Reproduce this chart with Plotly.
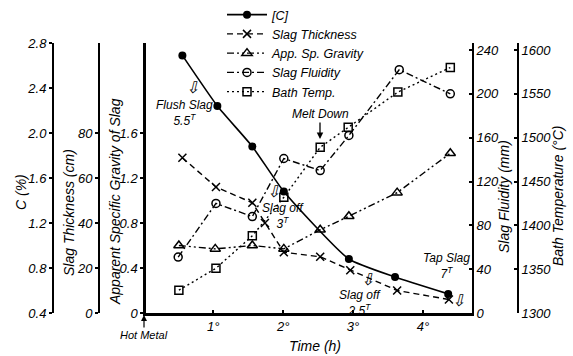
import plotly.graph_objects as go

W, H = 573, 356

# ---- data ----
hours_c = [0.56, 1.06, 1.56, 2.01, 2.94, 3.60, 4.36]
carbon = [2.69, 2.24, 1.88, 1.48, 0.88, 0.72, 0.57]

hours_thk = [0.56, 1.04, 1.56, 1.74, 2.01, 2.53, 2.96, 3.63, 4.37]
slag_thickness = [69, 56, 49, 40, 27, 25, 19, 10, 6]

hours_sg = [0.51, 1.03, 1.56, 2.01, 2.53, 2.94, 3.63, 4.39]
sp_gravity = [0.60, 0.57, 0.60, 0.57, 0.74, 0.86, 1.07, 1.42]

hours_fl = [0.50, 1.04, 1.56, 2.01, 2.53, 2.94, 3.66, 4.39]
slag_fluidity = [51, 100, 88, 141, 130, 162, 222, 200]

hours_bt = [0.51, 1.04, 1.56, 2.01, 2.53, 2.93, 3.64, 4.39]
bath_temp = [1326, 1351, 1388, 1432, 1489, 1512, 1552, 1580]

x_ticks = [1, 2, 3, 4]
x_ticktext = ["1°", "2°", "3°", "4°"]
c_ticks = [0.4, 0.8, 1.2, 1.6, 2.0, 2.4, 2.8]
thk_ticks = [0, 20, 40, 60, 80]
sg_ticks = [0, 0.4, 0.8, 1.2, 1.6]
sg_ticktext = ["0", "0.4", "0.8", "1.2", "1.6"]
fl_ticks = [0, 40, 80, 120, 160, 200, 240]
bt_ticks = [1300, 1350, 1400, 1450, 1500, 1550, 1600]

FONT = "Liberation Sans"


def px(x):
    return x / W


def py(y):
    return 1 - y / H


fig = go.Figure()
fig.add_trace(go.Scatter(x=hours_c, y=carbon, yaxis="y2", name="[C]",
                         mode="lines+markers", line=dict(color="black", width=1.6, shape="spline", smoothing=0.5),
                         marker=dict(symbol="circle", size=8, color="black")))
fig.add_trace(go.Scatter(x=hours_thk, y=slag_thickness, yaxis="y3", name="Slag Thickness",
                         mode="lines+markers", line=dict(color="black", width=1.4, dash="6px,4px"),
                         marker=dict(symbol="x-thin-open", size=8, line=dict(color="black", width=1.5))))
fig.add_trace(go.Scatter(x=hours_sg, y=sp_gravity, yaxis="y", name="App. Sp. Gravity",
                         mode="lines+markers", line=dict(color="black", width=1.4, dash="7px,3px,2px,3px,2px,3px"),
                         marker=dict(symbol="triangle-up-open", size=9, color="black", line=dict(width=1.5))))
fig.add_trace(go.Scatter(x=hours_fl, y=slag_fluidity, yaxis="y4", name="Slag Fluidity",
                         mode="lines+markers", line=dict(color="black", width=1.4, dash="7px,3px,2px,3px"),
                         marker=dict(symbol="circle-open", size=8, color="black", line=dict(width=1.5))))
fig.add_trace(go.Scatter(x=hours_bt, y=bath_temp, yaxis="y5", name="Bath Temp.",
                         mode="lines+markers", line=dict(color="black", width=1.4, dash="2px,3px"),
                         marker=dict(symbol="square-open", size=8, color="black", line=dict(width=1.5))))

dom = [py(313), py(43)]
xdom = [px(146), px(472)]
axcommon = dict(showgrid=False, zeroline=False, showline=True, linecolor="black", automargin=False,
                tickfont=dict(family=FONT, size=13, color="black", style="italic"),
                ticklen=3, tickcolor="black", tickwidth=1.5)

fig.update_layout(
    width=W, height=H,
    margin=dict(l=0, r=0, t=0, b=0, autoexpand=False),
    paper_bgcolor="white", plot_bgcolor="white",
    showlegend=True,
    legend=dict(x=px(222), y=py(0), xanchor="left", yanchor="top",
                font=dict(family=FONT, size=12.5, color="black", style="italic"),
                bgcolor="rgba(0,0,0,0)", tracegroupgap=0, itemwidth=40),
    xaxis=dict(domain=xdom, range=[0.04, 4.70], tickvals=x_ticks, ticktext=x_ticktext,
               ticks="inside", linewidth=2.5, **axcommon),
    yaxis=dict(domain=dom, range=[0, 2.4], tickvals=sg_ticks, ticktext=sg_ticktext,
               ticks="outside", linewidth=2.5, anchor="x", **axcommon),
    yaxis2=dict(range=[0.4, 2.8], tickvals=c_ticks, tickformat=".1f", overlaying="y",
                anchor="free", position=px(53), side="left", ticks="outside", linewidth=2, **axcommon),
    yaxis3=dict(range=[0, 120], tickvals=thk_ticks, overlaying="y",
                anchor="free", position=px(99), side="left", ticks="outside", linewidth=2, **axcommon),
    yaxis4=dict(range=[0, 240 * 270 / 263], tickvals=fl_ticks, overlaying="y",
                anchor="x", side="right", ticks="inside", linewidth=2, **axcommon),
    yaxis5=dict(range=[1300, 1300 + 300 * 270 / 263], tickvals=bt_ticks, overlaying="y",
                anchor="free", position=px(518), side="right", ticks="inside", linewidth=2, **axcommon),
)

ann = []


def text(x, y, t, size=13, angle=0):
    ann.append(dict(x=px(x), y=py(y), xref="paper", yref="paper", text=t, showarrow=False,
                    xanchor="center", yanchor="middle",
                    textangle=angle, font=dict(family=FONT, size=size, color="black", style="italic")))


# axis titles
text(21, 192, "C (%)", 14, -90)
text(69, 213, "Slag Thickness (cm)", 14, -90)
text(115, 202, "Apparent Specific Gravity of Slag", 14, -90)
text(504, 197, "Slag Fluidity (mm)", 14, -90)
text(558, 196, "Bath Temperature (°C)", 14, -90)
text(315, 346, "Time (h)", 14)

# event notes
text(192, 88, "⇩", 16)
text(184, 113, "Flush Slag<br>5.5<sup>T</sup>", 12)
text(273, 191, "⇩", 16)
text(283, 216, "Slag off<br>3<sup>T</sup>", 12)
text(367, 279, "⇩", 16)
text(360, 303, "Slag off<br>2.5<sup>T</sup>", 12)
text(446, 266, "Tap Slag<br>7<sup>T</sup>", 12)
text(458, 300, "⇩", 16)

ann.append(dict(x=px(320), y=py(139), xref="paper", yref="paper", text="Melt Down",
                showarrow=True, ax=0, ay=-25, arrowhead=2, arrowsize=1, arrowwidth=1.3, arrowcolor="black",
                font=dict(family=FONT, size=12, color="black", style="italic")))
ann.append(dict(x=px(144), y=py(315), xref="paper", yref="paper", text="Hot Metal",
                showarrow=True, ax=0, ay=20, arrowhead=2, arrowsize=1, arrowwidth=1.2, arrowcolor="black",
                font=dict(family=FONT, size=11, color="black", style="italic")))

fig.update_layout(annotations=ann)
fig.write_html("out.html", config={"displayModeBar": False},
               post_script="document.body.style.margin='0';document.body.style.overflow='hidden';")
